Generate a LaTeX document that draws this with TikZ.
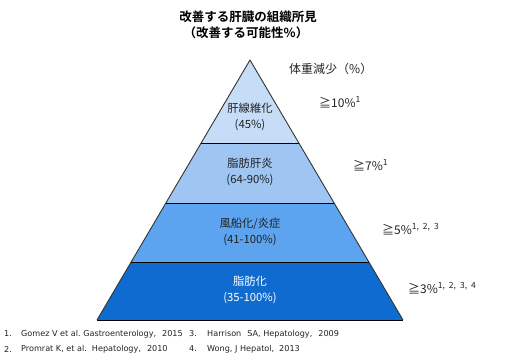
\documentclass[tikz,border=0pt]{standalone}
\usepackage{fontspec}
\setmainfont{Noto Sans CJK JP}[BoldFont={Noto Sans CJK JP Bold}]
\newfontfamily\reffont{DejaVu Sans}
\definecolor{bandA}{HTML}{C6DDF7}
\definecolor{bandB}{HTML}{9FC5F2}
\definecolor{bandC}{HTML}{5CA4EF}
\definecolor{bandD}{HTML}{0F6BD0}
\definecolor{txt}{HTML}{222222}
\tikzset{
  band/.style={draw=none},
  sep/.style={draw=black, line width=0.9pt},
  edge/.style={draw=black!80, line width=0.9pt, line join=round},
  lbl/.style={font=\fontsize{11.3}{16}\selectfont, text=txt, align=center, inner sep=0pt},
  wl/.style={font=\fontsize{12}{14}\selectfont, text=txt, anchor=west, inner sep=0pt},
  ttl/.style={font=\bfseries\fontsize{12.5}{15}\selectfont, text=black, inner sep=0pt},
  ref/.style={font=\reffont\fontsize{8.1}{9}\selectfont, text=txt, anchor=west, inner sep=0pt}
}
\newcommand{\supr}[1]{\raisebox{0.45em}{\fontsize{8.5}{9}\selectfont #1}}
\newcommand{\supsep}{,\hspace{4pt}}
\begin{document}
\begin{tikzpicture}[x=1pt,y=-1pt]
\useasboundingbox (0,0) rectangle (520,360);
% pyramid
\coordinate (apex) at (250,60);
\coordinate (l1) at (201.0,143.3); \coordinate (r1) at (299.0,143.3);
\coordinate (l2) at (165.7,203.3); \coordinate (r2) at (334.3,203.3);
\coordinate (l3) at (131.0,262.3); \coordinate (r3) at (369.0,262.3);
\coordinate (bl) at (97,320); \coordinate (br) at (403,320);
\fill[bandA] (apex) -- (r1) -- (l1) -- cycle;
\fill[bandB] (l1) -- (r1) -- (r2) -- (l2) -- cycle;
\fill[bandC] (l2) -- (r2) -- (r3) -- (l3) -- cycle;
\fill[bandD] (l3) -- (r3) -- (br) -- (bl) -- cycle;
\draw[sep] (l1) -- (r1);
\draw[sep] (l2) -- (r2);
\draw[sep] (l3) -- (r3);
\draw[sep] (bl) -- (br);
\draw[edge] (bl) -- (apex) -- (br);
% titles
\node[ttl] (t1) at (248,17) {改善する肝臓の組織所見};
\node[ttl] (t2) at (246,33) {（改善する可能性\%）};
% band labels
\node[lbl] (b1) at (250,117) {肝線維化\\(45\%)};
\node[lbl] (b2) at (250,172) {脂肪肝炎\\(64-90\%)};
\node[lbl] (b3) at (250,232) {風船化/炎症\\(41-100\%)};
\node[lbl, text=white] (b4) at (250,290) {脂肪化\\(35-100\%)};
% weight loss
\node[wl] (w0) at (289,69) {体重減少（\%）};
\node[wl] (w1) at (319,102) {≧10\%\supr{1}};
\node[wl] (w2) at (353,165) {≧7\%\supr{1}};
\node[wl] (w3) at (382,229) {≧5\%\supr{1\supsep 2\supsep 3}};
\node[wl] (w4) at (408,288) {≧3\%\supr{1\supsep 2\supsep 3\supsep 4}};
% references
\node[ref] (n1) at (4,334) {1.};
\node[ref] (r1t) at (21,334) {Gomez V et al.\ Gastroenterology,\hspace{6pt}2015};
\node[ref] (n3) at (189,334) {3.};
\node[ref] (r3t) at (207,334) {Harrison\hspace{6pt}SA, Hepatology,\hspace{6pt}2009};
\node[ref] (n2) at (4,349) {2.};
\node[ref] (r2t) at (21,349) {Promrat K, et al.\hspace{5pt}Hepatology,\hspace{6pt}2010};
\node[ref] (n4) at (189,349) {4.};
\node[ref] (r4t) at (207,349) {Wong, J Hepatol,\hspace{5pt}2013};
\end{tikzpicture}
\end{document}
